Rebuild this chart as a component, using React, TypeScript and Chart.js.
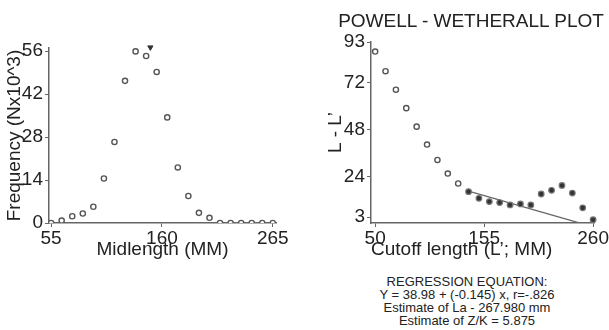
import React, { useEffect, useRef } from "react";
import { Chart, registerables } from "chart.js";

Chart.register(...registerables);

// ---- Left panel: length-frequency ----
const midLengths = [55, 65, 75, 85, 95, 105, 115, 125, 135, 145, 155, 165, 175, 185, 195, 205, 215, 225, 235, 245, 255, 265];
const frequency = [0, 0.8, 2.2, 3.1, 5.3, 14.5, 26.4, 46.3, 55.9, 54.4, 49.2, 34.4, 18.1, 8.8, 3.3, 1.7, 0, 0, 0, 0, 0, 0];
const modeMarkX = [149];
const modeMarkY = [57.2];
const leftXTicks = [55, 160, 265];
const leftYTicks = [0, 14, 28, 42, 56];

// ---- Right panel: Powell-Wetherall ----
const cutoffOpen = [50, 60, 70, 80, 90, 100, 110, 120, 130];
const diffOpen = [88.1, 78.0, 68.5, 59.0, 49.5, 40.3, 32.4, 25.4, 20.3];
const cutoffFilled = [140, 150, 160, 170, 180, 190, 200, 210, 220, 230, 240, 250, 260];
const diffFilled = [16.1, 12.7, 11.0, 10.5, 9.3, 9.8, 9.3, 14.9, 16.8, 19.3, 15.4, 7.8, 1.7];
const regX = [140, 245];
const regY = [16.4, 0.3];
const rightXTicks = [50, 155, 260];
const rightYTicks = [3, 24, 48, 72, 93];

const rightTitle = "POWELL - WETHERALL PLOT";
const regressionText = [
  "REGRESSION EQUATION:",
  "Y = 38.98 + (-0.145) x, r=-.826",
  "Estimate of La - 267.980 mm",
  "Estimate of Z/K = 5.875",
];

const FONT = "'Liberation Sans', Arial, Helvetica, sans-serif";
const TEXT = "#222";
const AXIS = "#666";
const FS = 19;

const pts = (xs: number[], ys: number[]) => xs.map((x, i) => ({ x, y: ys[i] }));

function axis(
  min: number,
  max: number,
  ticks: number[],
  title: string,
  isX: boolean,
  fit: number,
  titlePad: number,
  titleAlign: string = "center"
) {
  return {
    type: "linear",
    min,
    max,
    afterBuildTicks: (s: any) => {
      s.ticks = ticks.map((v) => ({ value: v }));
    },
    afterFit: (s: any) => {
      if (isX) s.height = fit;
      else s.width = fit;
    },
    border: { display: true, color: AXIS, width: 1.5 },
    grid: { display: true, drawOnChartArea: false, drawTicks: true, tickLength: 4, color: AXIS },
    ticks: {
      autoSkip: false,
      maxRotation: 0,
      color: TEXT,
      padding: isX ? 0 : 2,
      font: { family: FONT, size: FS },
    },
    title: {
      display: true,
      text: title,
      align: titleAlign,
      color: TEXT,
      font: { family: FONT, size: FS },
      padding: isX ? { top: 0, bottom: titlePad } : { top: titlePad, bottom: 0 },
    },
  };
}

function useChart(ref: React.RefObject<HTMLCanvasElement>, make: () => any) {
  useEffect(() => {
    if (!ref.current) return;
    const c = new Chart(ref.current, make());
    return () => c.destroy();
  }, []);
}

export default function App() {
  const leftRef = useRef<HTMLCanvasElement>(null);
  const rightRef = useRef<HTMLCanvasElement>(null);

  useChart(leftRef, () => ({
    type: "scatter",
    data: {
      datasets: [
        {
          data: pts(midLengths, frequency),
          pointRadius: 2.6,
          pointBorderWidth: 1.4,
          pointBorderColor: "#555",
          pointBackgroundColor: "#fff",
        },
        {
          data: pts(modeMarkX, modeMarkY),
          pointStyle: "triangle",
          rotation: 180,
          pointRadius: 3,
          pointBorderWidth: 1,
          pointBorderColor: "#333",
          pointBackgroundColor: "#333",
          clip: false,
        },
      ],
    },
    options: {
      animation: false,
      responsive: false,
      layout: { padding: { left: 0, right: 24, top: 48, bottom: 0 } },
      plugins: { legend: { display: false }, tooltip: { enabled: false } },
      scales: {
        x: axis(53, 268, leftXTicks, "Midlength (MM)", true, 42, 4),
        y: axis(0, 57, leftYTicks, "Frequency (Nx10^3)", false, 49, 3),
      },
    },
  }));

  useChart(rightRef, () => ({
    type: "scatter",
    data: {
      datasets: [
        {
          data: pts(cutoffOpen, diffOpen),
          pointRadius: 2.6,
          pointBorderWidth: 1.4,
          pointBorderColor: "#555",
          pointBackgroundColor: "#fff",
        },
        {
          data: pts(cutoffFilled, diffFilled),
          pointRadius: 2.8,
          pointBorderWidth: 1.2,
          pointBorderColor: "#777",
          pointBackgroundColor: "#333",
          clip: false,
        },
        {
          data: pts(regX, regY),
          showLine: true,
          borderColor: "#666",
          borderWidth: 1.2,
          pointRadius: 0,
        },
      ],
    },
    options: {
      animation: false,
      responsive: false,
      layout: { padding: { left: 0, right: 12, top: 42, bottom: 0 } },
      plugins: { legend: { display: false }, tooltip: { enabled: false } },
      scales: {
        x: axis(46, 261, rightXTicks, "Cutoff length (L\u2019; MM)", true, 42, 4, "start"),
        y: axis(0, 93, rightYTicks, "L - L\u2019", false, 71, 24),
      },
    },
  }));

  return (
    <div style={{ position: "fixed", left: 0, top: 0, width: 609, height: 330, background: "#fff", overflow: "hidden" }}>
      <canvas ref={leftRef} width={300} height={265} style={{ position: "absolute", left: 0, top: 0 }} />
      <canvas ref={rightRef} width={309} height={265} style={{ position: "absolute", left: 300, top: 0 }} />
      <div
        style={{
          position: "absolute",
          left: 300,
          top: 10,
          width: 342,
          textAlign: "center",
          fontFamily: FONT,
          fontSize: FS,
          lineHeight: "22px",
          color: TEXT,
          whiteSpace: "nowrap",
        }}
      >
        {rightTitle}
      </div>
      <div
        style={{
          position: "absolute",
          left: 340,
          top: 275,
          width: 254,
          textAlign: "center",
          fontFamily: FONT,
          fontSize: 13,
          lineHeight: "13px",
          color: TEXT,
        }}
      >
        {regressionText.map((t, i) => (
          <div key={i}>{t}</div>
        ))}
      </div>
    </div>
  );
}
